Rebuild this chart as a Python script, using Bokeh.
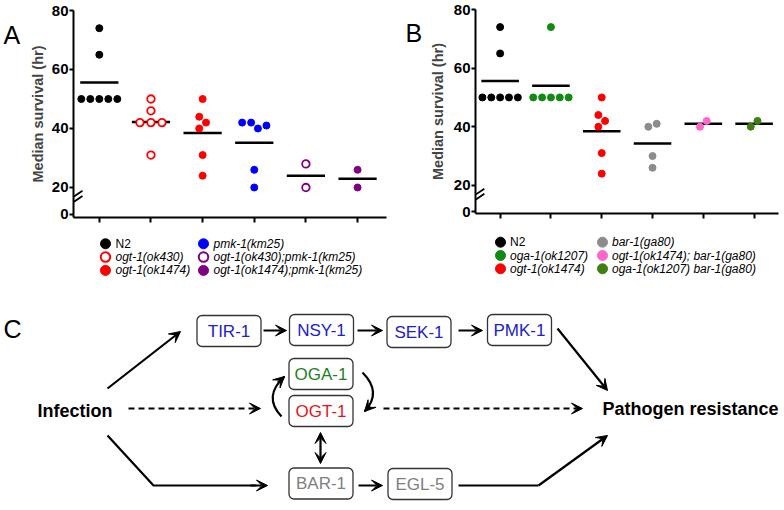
import numpy as np
from bokeh.plotting import figure
from bokeh.layouts import column, row
from bokeh.models import Range1d, FixedTicker, Arrow, VeeHead
from bokeh.core.properties import value
from bokeh.embed import file_html
from bokeh.resources import INLINE

FONT = "Liberation Sans"

# ---------------- data (median survival, hr) ----------------
a_strains = ["N2", "ogt-1(ok430)", "ogt-1(ok1474)", "pmk-1(km25)",
             "ogt-1(ok430);pmk-1(km25)", "ogt-1(ok1474);pmk-1(km25)"]
a_n2 = [74, 65, 50, 50, 50, 50, 50]
a_ogt430 = [50, 46, 42, 42, 42, 31]
a_ogt1474 = [50, 44, 42, 40, 31, 24]
a_pmk1 = [42, 42, 41, 40, 26, 20]
a_ogt430_pmk1 = [28, 20]
a_ogt1474_pmk1 = [26, 20]
a_colors = ["#000000", "#ff0000", "#ff0000", "#0000ff", "#800080", "#800080"]
a_filled = [True, False, True, True, False, True]

b_strains = ["N2", "oga-1(ok1207)", "ogt-1(ok1474)", "bar-1(ga80)",
             "ogt-1(ok1474); bar-1(ga80)", "oga-1(ok1207) bar-1(ga80)"]
b_n2 = [74, 65, 50, 50, 50, 50, 50]
b_oga1 = [74, 50, 50, 50, 50, 50]
b_ogt1474 = [50, 44, 42, 40, 31, 24]
b_bar1 = [41, 40, 30, 26]
b_ogt1474_bar1 = [42, 40]
b_oga1_bar1 = [42, 40]
b_colors = ["#000000", "#118a11", "#ff0000", "#8c8c8c", "#ff66cc", "#3f7f10"]
b_filled = [True, True, True, True, True, True]

y_ticks = [20, 40, 60, 80]
zero_label = "0"
y_title = "Median survival (hr)"
panel_letters = ["A", "B", "C"]

# pathway diagram (panel C)
node_names = ["TIR-1", "NSY-1", "SEK-1", "PMK-1", "OGA-1", "OGT-1", "BAR-1", "EGL-5"]
node_colors = ["#2020cc", "#2020cc", "#2020cc", "#2020cc", "#1e7f1e", "#e8131b", "#808080", "#808080"]
source_label = "Infection"
target_label = "Pathogen resistance"

# ---------------- layout constants ----------------
TOP_H = 230
LEG_H = 70
Y_HI = 80
ZERO_POS = 11          # compressed position of the "0" tick (broken axis)


def swarm(vals, d, sx, sy):
    """Beeswarm offsets (x data units) so that dots of diameter d px do not overlap."""
    n = len(vals)
    order = sorted(range(n), key=lambda i: vals[i])
    off = [0.0] * n
    placed = []
    parent = list(range(n))

    def find(a):
        while parent[a] != a:
            a = parent[a]
        return a

    for i in order:
        cons = []
        cands = [0.0]
        for j in placed:
            dy = abs(vals[i] - vals[j]) * sy
            if dy < d:
                need = (d * d - dy * dy) ** 0.5
                cons.append((off[j], need))
                cands += [off[j] - need, off[j] + need]
                parent[find(i)] = find(j)
        valid = [c for c in cands if all(abs(c - xj) >= nd - 1e-6 for xj, nd in cons)]
        best = min(valid, key=lambda c: (round(abs(c), 6), c < 0))
        off[i] = best
        placed.append(i)
    comps = {}
    for i in range(n):
        comps.setdefault(find(i), []).append(i)
    for members in comps.values():
        lo = min(off[m] for m in members)
        hi = max(off[m] for m in members)
        mid = (lo + hi) / 2
        for m in members:
            off[m] -= mid
    return [o / sx for o in off]


def letter_fig(letter, fig_w, lx, ly):
    p = figure(width=fig_w, height=TOP_H, x_range=Range1d(0, fig_w), y_range=Range1d(TOP_H, 0),
               output_backend="svg", toolbar_location=None, min_border=0,
               x_axis_location=None, y_axis_location=None)
    p.outline_line_color = None
    p.grid.visible = False
    p.text([lx], [ly], text=[letter], text_font=value(FONT), text_font_size="25px",
           text_baseline="alphabetic", text_color="black")
    return p


def dot_panel(groups, colors, filled, fig_w, bl, br, bt, bb, x_lo, x_hi, y_lo, label_standoff):
    p = figure(width=fig_w, height=TOP_H, x_range=Range1d(x_lo, x_hi), y_range=Range1d(y_lo, Y_HI),
               output_backend="svg", toolbar_location=None,
               min_border_left=bl, min_border_right=br, min_border_top=bt, min_border_bottom=bb)
    p.outline_line_color = None
    p.grid.visible = False
    frame_w = fig_w - bl - br
    frame_h = TOP_H - bt - bb
    sx = frame_w / (x_hi - x_lo)
    sy = frame_h / (Y_HI - y_lo)

    # mean lines
    for i, vals in enumerate(groups):
        pos = i + 1
        m = float(np.mean(vals))
        p.segment(x0=[pos - 0.37], x1=[pos + 0.37], y0=[m], y1=[m], line_color="black", line_width=2.5)
    # dots
    for i, (vals, col, fil) in enumerate(zip(groups, colors, filled)):
        pos = i + 1
        offs = swarm(vals, 9.0 if fil else 11.0, sx, sy)
        xs = [pos + o for o in offs]
        if fil:
            p.scatter(xs, vals, size=7, fill_color=col, line_color=col)
        else:
            p.scatter(xs, vals, size=7.5, fill_color="white", line_color=col, line_width=1.8)

    # axes
    xa = p.xaxis[0]
    ticks = list(range(1, len(groups) + 1))
    xa.ticker = FixedTicker(ticks=ticks)
    xa.major_label_overrides = {t: "" for t in ticks}
    xa.major_label_standoff = 0
    xa.axis_line_width = 2
    xa.major_tick_line_width = 2
    xa.major_tick_out = 5
    xa.major_tick_in = 0
    xa.minor_tick_line_color = None

    ya = p.yaxis[0]
    ya.ticker = FixedTicker(ticks=[ZERO_POS] + y_ticks)
    ya.major_label_overrides = {ZERO_POS: zero_label}
    ya.axis_line_width = 2
    ya.major_tick_line_width = 2
    ya.major_tick_out = 4
    ya.major_tick_in = 0
    ya.minor_tick_line_color = None
    ya.major_label_standoff = 1
    ya.major_label_text_font = FONT
    ya.major_label_text_font_style = "bold"
    ya.major_label_text_font_size = "15px"
    ya.major_label_text_color = "black"
    ya.axis_label = y_title
    ya.axis_label_text_font = FONT
    ya.axis_label_text_font_style = "bold"
    ya.axis_label_text_font_size = "14.5px"
    ya.axis_label_standoff = label_standoff

    # axis break marks
    yc = ZERO_POS + (20 - ZERO_POS) * 0.55
    for dv in (-2.6, 2.6):
        p.add_layout(Arrow(end=None, x_start=x_lo - 9 / sx, y_start=yc - 6 / sy + dv / sy,
                           x_end=x_lo + 9 / sx, y_end=yc + 6 / sy + dv / sy,
                           line_color="black", line_width=1.8))
    return p


def legend_panel(strains, colors, filled, fig_w, bl, br, x_lo, x_hi, y_top, x0, colw, txt_dx, y0, row_h):
    p = figure(width=fig_w, height=LEG_H, x_range=Range1d(x_lo, x_hi), y_range=Range1d(y_top + LEG_H, y_top),
               output_backend="svg", toolbar_location=None, min_border_top=0, min_border_bottom=0,
               min_border_left=bl, min_border_right=br,
               x_axis_location=None, y_axis_location=None)
    p.outline_line_color = None
    p.grid.visible = False
    for k, (name, col, fil) in enumerate(zip(strains, colors, filled)):
        cx = x0 + (k // 3) * colw
        cy = y0 + (k % 3) * row_h
        if fil:
            p.scatter([cx], [cy], size=10, fill_color=col, line_color=col)
        else:
            p.scatter([cx], [cy], size=9.5, fill_color="white", line_color=col, line_width=2)
        p.text([cx + txt_dx], [cy], text=[name], text_font=value(FONT), text_font_size="12px",
               text_font_style="normal" if name == "N2" else "italic",
               text_baseline="middle", text_align="left", text_color="black")
    return p


a_groups = [a_n2, a_ogt430, a_ogt1474, a_pmk1, a_ogt430_pmk1, a_ogt1474_pmk1]
b_groups = [b_n2, b_oga1, b_ogt1474, b_bar1, b_ogt1474_bar1, b_oga1_bar1]

letA = letter_fig(panel_letters[0], 24, 3, 27)
letB = letter_fig(panel_letters[1], 36, 15, 26)
pA = dot_panel(a_groups, a_colors, a_filled, 366, 49, 4, 10, 13, 0.5, 6.56, 9.83, 3)
pB = dot_panel(b_groups, b_colors, b_filled, 358, 44, 6, 9, 17, 0.515, 6.48, 10.4, 5)
lA = legend_panel(a_strains, a_colors, a_filled, 390, 73, 4, 73, 386, 230, 105, 98, 10, 243.3, 13.3)
lB = legend_panel(b_strains, b_colors, b_filled, 394, 80, 6, 470, 778, 230, 500, 102, 9.5, 241.7, 13.3)

# ---------------- panel C: pathway diagram ----------------
C_W, C_H = 784, 210
OY = 300   # page offset of this figure
pC = figure(width=C_W, height=C_H, x_range=Range1d(0, C_W), y_range=Range1d(OY + C_H, OY),
            output_backend="svg", toolbar_location=None, min_border=0,
            x_axis_location=None, y_axis_location=None)
pC.outline_line_color = None
pC.grid.visible = False

node_cx = [228.5, 321, 418.5, 519, 320.5, 320.5, 320.5, 419.5]
node_cy = [330.5, 329.5, 331.5, 329.5, 373.5, 410.5, 483, 483.5]
BW, BH = 64, 31
pC.quad(left=[x - BW / 2 for x in node_cx], right=[x + BW / 2 for x in node_cx],
        top=[y - BH / 2 for y in node_cy], bottom=[y + BH / 2 for y in node_cy],
        fill_color="white", line_color="#333333", line_width=1.3, border_radius=5)
pC.text(node_cx, node_cy, text=node_names, text_color=node_colors, text_font=value(FONT),
        text_font_size="17px", text_align="center", text_baseline="middle")


def head():
    return VeeHead(size=11, fill_color="black", line_color="black", line_width=1)


def arrow(x0, y0, x1, y1, dash="solid", both=False):
    pC.add_layout(Arrow(x_start=x0, y_start=y0, x_end=x1, y_end=y1,
                        line_width=2.2, line_color="black", line_dash=dash,
                        end=head(), start=head() if both else None))


def polyline(xs, ys):
    pC.line(xs, ys, line_width=2.2, line_color="black")


def curve(x0, y0, xc, yc, x1, y1):
    pC.quadratic(x0=[x0], y0=[y0], cx=[xc], cy=[yc], x1=[x1], y1=[y1],
                 line_width=2.2, line_color="black")
    ax, ay = x1 - 0.3 * (x1 - xc), y1 - 0.3 * (y1 - yc)
    arrow(ax, ay, x1, y1)


arrow(107, 388, 180, 331)
arrow(263, 330, 286, 330)
arrow(357, 330, 382, 330)
arrow(458, 330, 482, 330)
arrow(557, 328, 607, 390)
arrow(128, 408, 260, 408, dash="6 4")
arrow(383, 408, 582, 408, dash="6 4")
curve(281, 416, 262, 396, 284, 376)
curve(362, 372, 382, 392, 364, 411)
arrow(320, 432, 320, 463, both=True)
polyline([107, 153, 256], [435, 485, 485])
arrow(250, 485, 267, 485)
arrow(358, 485, 382, 485)
polyline([458, 538], [485, 485])
arrow(538, 485, 607, 435)

pC.text([37], [410], text=[source_label], text_font=value(FONT), text_font_style="bold",
        text_font_size="18px", text_baseline="middle", text_color="black")
pC.text([602], [408], text=[target_label], text_font=value(FONT),
        text_font_style="bold", text_font_size="18px", text_baseline="middle", text_color="black")
pC.text([3], [328], text=[panel_letters[2]], text_font=value(FONT), text_font_size="25px",
        text_baseline="alphabetic", text_color="black")

layout = column(row(column(row(letA, pA), lA), column(row(letB, pB), lB)), pC)
open("out.html", "w").write(file_html(layout, INLINE))
